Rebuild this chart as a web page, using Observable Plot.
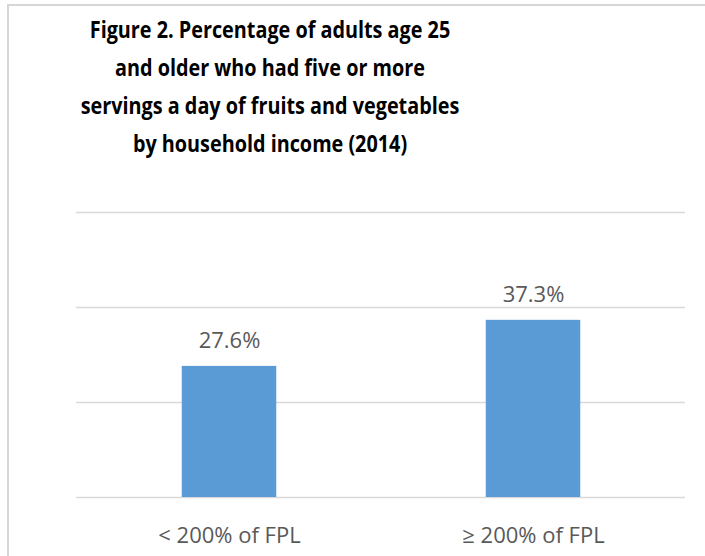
<!DOCTYPE html>
<html>
<head>
<meta charset="utf-8">
<script src="https://cdn.jsdelivr.net/npm/d3@7"></script>
<script src="https://cdn.jsdelivr.net/npm/@observablehq/plot@0.6"></script>
<style>
  html, body { margin: 0; padding: 0; background: #ffffff; }
  #wrap { position: relative; width: 705px; height: 556px; overflow: hidden; background: #fff; }
  #frame { position: absolute; left: 7px; top: 4px; width: 720px; height: 580px;
           border-left: 2px solid #d6d6d6; border-top: 2px solid #d6d6d6; box-sizing: border-box; }
  #title { position: absolute; left: 0; top: 0; width: 540px; text-align: center; white-space: nowrap;
           font-family: "Open Sans", sans-serif; font-weight: 700; font-size: 24px; line-height: 38px;
           color: #000; padding-top: 10px; box-sizing: border-box;
           transform: scaleX(0.825); transform-origin: 270px 0; }
  #chart { position: absolute; left: 0; top: 190px; }
</style>
</head>
<body>
<div id="wrap">
  <div id="frame"></div>
  <div id="title">Figure 2. Percentage of adults age 25<br>and older who had five or more<br>servings a day of fruits and vegetables<br>by household income (2014)</div>
  <div id="chart"></div>
</div>
<script>
const categories = ["< 200% of FPL", "≥ 200% of FPL"];
const values = [27.6, 37.3];
const valueLabels = ["27.6%", "37.3%"];
const gridTicks = [0, 20, 40, 60];

const data = categories.map((c, i) => ({category: c, value: values[i], label: valueLabels[i]}));

const plot = Plot.plot({
  width: 705,
  height: 366,
  marginLeft: 76,
  marginRight: 20,
  marginTop: 22,
  marginBottom: 59,
  style: {fontFamily: "Open Sans, sans-serif", fontSize: "22px", color: "#595959", background: "transparent"},
  x: {type: "band", domain: categories, padding: 0, label: null, tickSize: 0, tickPadding: 30},
  y: {domain: [0, 60], axis: null},
  marks: [
    Plot.ruleY(gridTicks, {stroke: "#d9d9d9", strokeWidth: 1.5}),
    Plot.barY(data, {x: "category", y: "value", fill: "#5b9bd5", insetLeft: 104.75, insetRight: 104.75}),
    Plot.text(data, {x: "category", y: "value", text: "label", dy: -18, lineAnchor: "bottom",
                     fill: "#595959", fontSize: 22})
  ]
});
document.getElementById("chart").appendChild(plot);
</script>
</body>
</html>
